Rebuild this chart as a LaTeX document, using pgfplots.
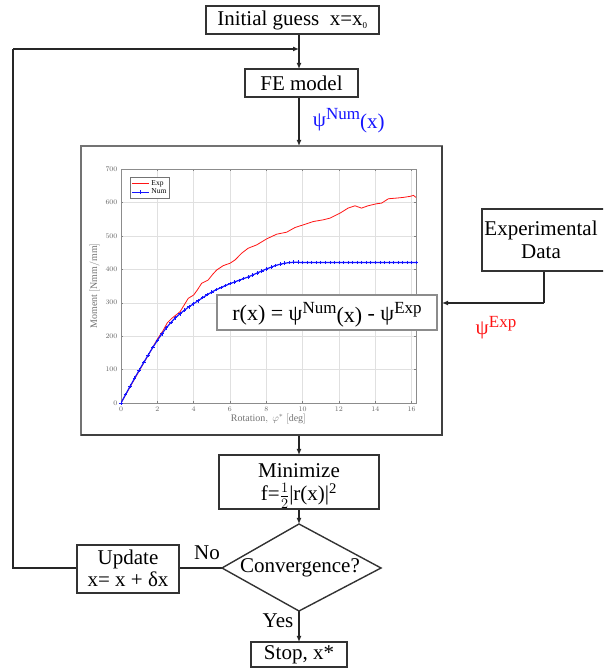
\documentclass[border=0pt]{standalone}
\usepackage{fontspec}
\setmainfont{Liberation Serif}
\usepackage{pgfplots}
\pgfplotsset{compat=1.18}
\usetikzlibrary{arrows.meta}

\definecolor{numblue}{RGB}{20,20,255}
\definecolor{expred}{RGB}{255,20,20}
\newcommand{\flowfont}{\fontsize{21}{24}\selectfont}
\newcommand{\sups}[1]{\raisebox{7pt}{\fontsize{17}{18}\selectfont #1}}

\begin{document}
\begin{tikzpicture}[x=1pt,y=1pt,
  line width=1.2pt,
  flow/.style={draw=black!85, line width=1.2pt},
  arr/.style={flow, -{Latex[length=6pt,width=5pt]}},
  box/.style={draw=black!80, line width=1.4pt, fill=white}]
\path[use as bounding box] (0,0) rectangle (603,669);
\begin{scope}
\clip (0,0) rectangle (603,669);

% feedback loop
\draw[flow] (77,101) -- (13,101) -- (13,620);
\draw[arr] (13,620) -- (299,620);

% main column
\draw[arr] (299,635) -- (299,600);
\draw[arr] (299,572) -- (299,523);
\draw[arr] (299,233) -- (299,214);
\draw[arr] (299,160) -- (299,145);
\draw[arr] (299,58) -- (299,27);
\draw[flow] (222,101) -- (179,101);

% experimental data link
\draw[flow] (544,398) -- (544,366);
\draw[arr] (544,366) -- (442,366);

% boxes
\draw[box] (206,635) rectangle (379,663);
\node[font=\flowfont] at (292.5,649) {Initial guess\ \ x=x\textsubscript{\fontsize{9}{10}\selectfont 0}};
\draw[box] (245,572) rectangle (358,600);
\node[font=\flowfont] at (301.5,586) {FE model};
\node[font=\flowfont, text=numblue, anchor=base west] at (309,542)
  {ψ\sups{Num}\raisebox{-2pt}{(x)}};

\draw[box] (482,398) rectangle (640,460);
\node[font=\flowfont, align=center] at (541,429) {Experimental\\[-1pt]Data};
\node[font=\flowfont, text=expred, anchor=base] at (496,334) {ψ\sups{Exp}};

\draw[box] (219,160) rectangle (379,214);
\node[font=\flowfont, align=center, anchor=base] at (299,191) {Minimize};
\node[font=\flowfont, anchor=base] at (299,168)
  {f=${\textstyle\frac{1}{2}}$|r(x)|\textsuperscript{2}};

\draw[box] (299,145) -- (381,101) -- (299,58) -- (222,101) -- cycle;
\node[font=\flowfont] at (300,101) {Convergence?};
\node[font=\flowfont] at (278,48) {Yes};
\node[font=\flowfont] at (207,116) {No};

\draw[box] (77,76) rectangle (179,124);
\node[font=\flowfont, anchor=base] at (128,104) {Update};
\node[font=\flowfont, anchor=base] at (128,82) {x= x + δx};

\draw[box] (251,2) rectangle (347,27);
\node[font=\flowfont] at (299,14) {Stop,\ x*};

% chart frame
\draw[draw=black!55, line width=1.2pt, fill=white] (81,234) rectangle (442,523);
\draw[black!75, line width=1.6pt] (442,523) -- (442,234) -- (81,234);

\begin{axis}[
  at={(121pt,266pt)}, anchor=south west,
  scale only axis, width=295pt, height=234pt,
  xmin=0, xmax=16.24, ymin=0, ymax=700,
  xtick={0,2,...,16}, ytick={0,100,...,700},
  grid=major,
  grid style={black!12, line width=0.4pt},
  axis line style={black!45, line width=0.5pt},
  tick style={black!50, line width=0.4pt},
  major tick length=2pt,
  tick label style={font=\fontsize{7.5}{8}\selectfont, text=black!60},
  xlabel={$\mathrm{Rotation},\ \varphi^{*}\ [\mathrm{deg}]$},
  ylabel={$\mathrm{Moment}\ [\mathrm{Nmm/mm}]$},
  label style={font=\fontsize{10}{11}\selectfont, text=black!55},
  xlabel style={yshift=4pt},
  ylabel style={yshift=-1pt},
  legend style={at={(0.03,0.965)}, anchor=north west,
    font=\fontsize{7.5}{8}\selectfont, draw=black!55, line width=0.6pt,
    inner sep=1pt, row sep=-2pt},
  legend cell align=left,
]
\addplot[expred, line width=0.8pt] coordinates {
(0,0) (0.5,48) (1,96) (1.5,143) (2,191) (2.33,218) (2.55,240) (2.79,253)
(3.0,262) (3.25,273) (3.5,295) (3.7,313) (4.0,323) (4.2,338) (4.44,358)
(4.8,368) (5.05,385) (5.27,398) (5.63,411) (6.0,418) (6.28,428) (6.64,448)
(7.0,463) (7.47,473) (8.02,491) (8.57,505) (9.12,511) (9.58,525) (10.04,533)
(10.6,543) (11.14,548) (11.5,553) (12.06,568) (12.5,583) (12.88,590)
(13.24,583) (13.6,590) (14.07,596) (14.35,598) (14.72,611) (15.17,613)
(15.54,615) (15.9,618) (16.1,621) (16.24,615)
};
\addlegendentry{Exp}
\addplot[numblue, line width=1.2pt, mark=+, mark size=1.8pt,
  mark options={line width=0.7pt}] coordinates {
(0,0) (0.25,25) (0.5,50) (0.75,74) (1,98) (1.25,121) (1.5,144) (1.75,166)
(2,187) (2.25,207) (2.5,225) (2.75,241) (3,255) (3.25,267) (3.5,278)
(3.75,288) (4,297) (4.25,306) (4.5,315) (4.75,324) (5,332) (5.25,339)
(5.5,345) (5.75,351) (6,357) (6.25,362) (6.5,367) (6.75,372) (7,377)
(7.25,383) (7.5,389) (7.75,395) (8,401) (8.25,406) (8.5,411) (8.75,415)
(9,418) (9.25,420) (9.5,421) (9.75,421) (10,420) (10.25,420) (10.5,420)
(10.75,420) (11,420) (11.25,420) (11.5,420) (11.75,420) (12,420)
(12.25,420) (12.5,420) (12.75,420) (13,420) (13.25,420) (13.5,420)
(13.75,420) (14,420) (14.25,420) (14.5,420) (14.75,420) (15,420)
(15.25,420) (15.5,420) (15.75,420) (16,420) (16.24,420)
};
\addlegendentry{Num}
\end{axis}

% residual box over the chart
\draw[draw=black!45, line width=1.2pt, fill=white] (217,339) rectangle (437,374);
\node[font=\fontsize{22}{26}\selectfont] at (327,354)
  {r(x) = ψ\sups{Num}\raisebox{-2pt}{(x)} - ψ\sups{Exp}};
\end{scope}
\end{tikzpicture}
\end{document}
